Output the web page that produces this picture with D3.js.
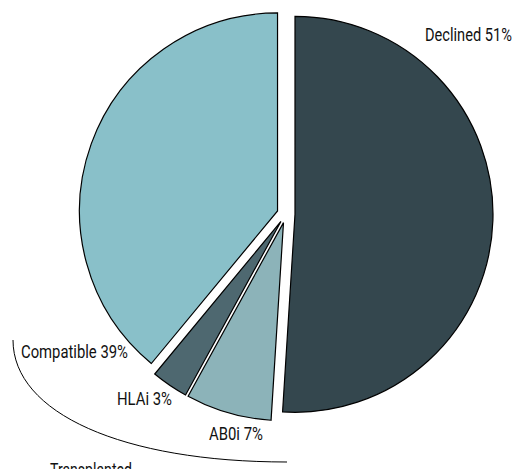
<!DOCTYPE html>
<html>
<head>
<meta charset="utf-8">
<script src="https://cdn.jsdelivr.net/npm/d3@7"></script>
<style>
  html, body { margin: 0; padding: 0; background: #ffffff; }
  svg { display: block; }
  text { font-family: Roboto, "Noto Sans", sans-serif; font-weight: 400; fill: #111; }
</style>
</head>
<body>
<svg id="chart" width="517" height="469"></svg>
<script>
// ---- data ----
const categories = ["Declined", "AB0i", "HLAi", "Compatible"];
const values = [51, 7, 3, 39];
const colors = ["#34474e", "#8cb3b9", "#4e6870", "#89c0c9"];
const groupLabel = "Transplanted";

// ---- layout ----
const W = 517, H = 469;
const cx = 286, cy = 214, R = 198, explode = 9;
const fontSize = 18.5;
const labelPos = [
  { x: 425, y: 41,  w: 87 },   // Declined
  { x: 209, y: 440, w: 54 },   // AB0i
  { x: 117, y: 405, w: 55 },   // HLAi
  { x: 21,  y: 358, w: 107 }   // Compatible
];
const groupPos = { x: 50, y: 476, w: 82 };

const svg = d3.select("#chart");

const data = categories.map((c, i) => ({ name: c, value: values[i], color: colors[i] }));

const pie = d3.pie().sort(null).value(d => d.value).startAngle(0).endAngle(2 * Math.PI);
const arc = d3.arc().innerRadius(0).outerRadius(R);

const g = svg.append("g").attr("transform", `translate(${cx},${cy})`);

g.selectAll("path.slice")
  .data(pie(data))
  .join("path")
  .attr("class", "slice")
  .attr("d", arc)
  .attr("fill", d => d.data.color)
  .attr("stroke", "#000")
  .attr("stroke-width", 1.2)
  .attr("stroke-linejoin", "miter")
  .attr("transform", d => {
    const a = (d.startAngle + d.endAngle) / 2;
    return `translate(${explode * Math.sin(a)},${-explode * Math.cos(a)})`;
  });

// condensed text helper: scale horizontally to target width
function condensed(sel, pos) {
  sel.attr("font-size", fontSize).attr("x", 0).attr("y", 0);
  sel.each(function(d, i) {
    const p = pos(d, i);
    const natural = this.getComputedTextLength();
    const sx = p.w / natural;
    d3.select(this).attr("transform", `translate(${p.x},${p.y}) scale(${sx},1)`);
  });
}

// labels
svg.selectAll("text.lbl")
  .data(data)
  .join("text")
  .attr("class", "lbl")
  .text(d => `${d.name} ${d.value}%`)
  .call(condensed, (d, i) => labelPos[i]);

// bracket curve for transplanted group
const p0 = [13, 340], p3 = [287, 462], k = 0.6;
const path = d3.path();
path.moveTo(p0[0], p0[1]);
path.bezierCurveTo(p0[0], p0[1] + k * (p3[1] - p0[1]), p3[0] - k * (p3[0] - p0[0]), p3[1], p3[0], p3[1]);
svg.append("path")
  .attr("d", path.toString())
  .attr("fill", "none")
  .attr("stroke", "#000")
  .attr("stroke-width", 1);

svg.append("text")
  .datum(groupLabel)
  .text(d => d)
  .call(condensed, () => groupPos);
</script>
</body>
</html>
